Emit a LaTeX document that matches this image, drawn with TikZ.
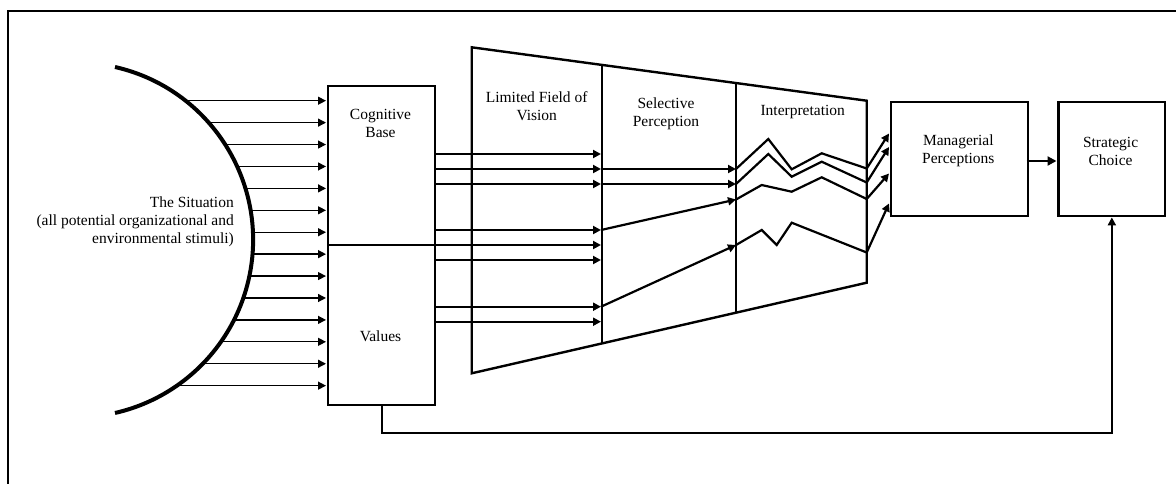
\documentclass[tikz,border=0pt]{standalone}
\usepackage{fontspec}
\setmainfont{Liberation Serif}
\usetikzlibrary{arrows.meta}
\begin{document}
\begin{tikzpicture}[x=1pt,y=-1pt,
  thinarrow/.style={line width=1.3pt,-{Triangle[length=8pt,width=8pt]}},
  thickarrow/.style={line width=2.2pt,-{Triangle[length=8pt,width=8pt]}},
  zig/.style={line width=2.2pt},
  frameline/.style={line width=2pt},
  boxline/.style={line width=2.4pt},
  boxnode/.style={draw,line width=2.4pt,inner sep=0pt,anchor=north west},
  txt/.style={font=\fontsize{15.5}{18}\selectfont,inner sep=0pt,align=center},
  ]
\useasboundingbox (0,0) rectangle (1176,483);

% outer frame
\draw[frameline] (8,490) -- (8,10.5) -- (1185,10.5);

% the situation: half disc with its label
\draw[line width=4pt] (115,67) arc[start angle=77.2, end angle=-77.2, radius=177.4pt];
\node[txt,align=right,anchor=east] (sit) at (234,222)
  {The Situation\\(all potential organizational and\\environmental stimuli)};

% cognitive base / values box
\node[boxnode,minimum width=107pt,minimum height=319pt] (cv) at (327,85) {};
\draw[boxline] (327,245) -- (434,245);
\node[txt] (cog) at (380.5,123.5) {Cognitive\\Base};
\node[txt] (val) at (380.5,336.5) {Values};

% stimuli entering the cognitive base and values
\foreach \k in {0,...,13}{
  \pgfmathsetmacro\yy{100.7+\k*21.92}
  \pgfmathsetmacro\xx{75.6+177.4*sqrt(1-((\yy-240)/177.4)^2)}
  \coordinate (s\k) at (\xx,\yy);
  \coordinate (t\k) at (326,\yy);
  \draw[thinarrow] (s\k) -- (t\k);
}

% perception filter (trapezoid with two dividers)
\coordinate (tl) at (471.7,47.3);
\coordinate (bl) at (471.7,373.3);
\coordinate (tr) at (866.7,100.7);
\coordinate (br) at (866.7,282.7);
\coordinate (d1t) at (601.7,64.9);
\coordinate (d1b) at (601.7,343.5);
\coordinate (d2t) at (736,83.0);
\coordinate (d2b) at (736,312.7);
\draw[boxline,line join=miter] (tl) -- (tr) -- (br) -- (bl) -- cycle;
\draw[boxline] (d1t) -- (d1b);
\draw[boxline] (d2t) -- (d2b);
\node[txt] (lfv) at (536.7,106.5) {Limited Field of\\Vision};
\node[txt] (sp) at (666,114) {Selective\\Perception};
\node[txt] (int) at (802.7,112.5) {Interpretation};

% stimuli passing the limited field of vision
\foreach \i/\y in {1/154,2/169,3/184,4/230,5/245,6/260,7/306.7,8/321.7}{
  \coordinate (o\i) at (434,\y);
  \coordinate (f\i) at (601,\y);
  \draw[thickarrow] (o\i) -- (f\i);
}

% stimuli passing selective perception
\coordinate (g2) at (736,169);
\coordinate (g3) at (736,184);
\coordinate (g4) at (736,199.5);
\coordinate (g7) at (736,245);
\draw[thickarrow] (f2) -- (g2);
\draw[thickarrow] (f3) -- (g3);
\draw[thickarrow] (f4) -- (g4);
\draw[thickarrow] (f7) -- (g7);

% interpretation
\coordinate (h1) at (866.7,168.5);
\coordinate (h2) at (866.7,182.5);
\coordinate (h3) at (866.7,199);
\coordinate (h4) at (866.7,252.5);
\draw[zig] (g2) -- (768.3,139) -- (791.7,169.3) -- (821.7,153.3) -- (h1);
\draw[zig] (g3) -- (768.3,154) -- (791.7,176.7) -- (821.7,161.7) -- (h2);
\draw[zig] (g4) -- (761.7,185) -- (791.7,191.7) -- (821.7,177.3) -- (h3);
\draw[zig] (g7) -- (761.7,230) -- (776.7,245) -- (791.7,222.7) -- (h4);

% managerial perceptions and strategic choice
\node[boxnode,minimum width=136.7pt,minimum height=114.3pt] (mp) at (890,100.7) {};
\node[txt] (mpt) at (958.3,151) {Managerial\\Perceptions};
\node[boxnode,minimum width=106.7pt,minimum height=114.3pt] (sc) at (1057.3,100.7) {};
\node[txt] (sct) at (1110.6,151) {Strategic\\Choice};

\coordinate (m1) at (889,133.5);
\coordinate (m2) at (889,147);
\coordinate (m3) at (889,173.5);
\coordinate (m4) at (889,203.5);
\draw[thickarrow] (h1) -- (m1);
\draw[thickarrow] (h2) -- (m2);
\draw[thickarrow] (h3) -- (m3);
\draw[thickarrow] (h4) -- (m4);

\coordinate (mpo) at (1026.7,161);
\coordinate (sci) at (1056.5,161);
\draw[line width=2.2pt,-{Triangle[length=9pt,width=9pt]}] (mpo) -- (sci);

% values feed strategic choice directly
\coordinate (fb) at (382,404);
\draw[thickarrow] (fb) -- (382,433) -| (sc.south);

\end{tikzpicture}
\end{document}
